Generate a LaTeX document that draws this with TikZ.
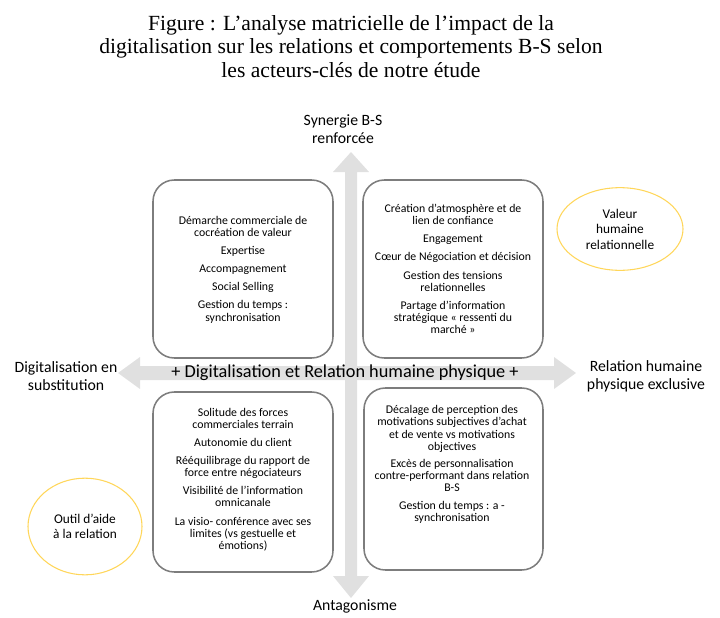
\documentclass[tikz,border=0pt]{standalone}
\usepackage{fontspec}
\setmainfont{Carlito}
\newfontfamily\titlefont{Liberation Serif}
\usetikzlibrary{shapes.geometric}
\definecolor{arrowgray}{RGB}{224,224,224}
\definecolor{boxgray}{RGB}{125,125,125}
\definecolor{ellyellow}{RGB}{255,214,90}
\begin{document}
\begin{tikzpicture}[x=0.75pt,y=-0.75pt,
  quad/.style={draw=boxgray, line width=1.15pt, rounded corners=16pt, fill=white},
  boxtext/.style={align=center, font=\fontsize{8.85}{9.1}\selectfont, inner sep=0pt},
  axislabel/.style={align=center, font=\fontsize{11.8}{13.6}\selectfont, inner sep=0pt},
  ell/.style={ellipse, draw=ellyellow, line width=0.8pt, align=center,
    font=\fontsize{10}{11.6}\selectfont, inner sep=0pt}]
\useasboundingbox (0,0) rectangle (720,617);

% title
\node[align=center, inner sep=0pt, font=\titlefont\fontsize{16.2}{17.6}\selectfont] (title) at (351,46.5)
  {Figure : L’analyse matricielle de l’impact de la\\
   digitalisation sur les relations et comportements B-S selon\\
   les acteurs-clés de notre étude};

% vertical arrow
\fill[arrowgray] (345,172) -- (333,172) -- (351,152) -- (369,172) -- (357,172)
  -- (357,576) -- (369,576) -- (351,598) -- (333,576) -- (345,576) -- cycle;
% horizontal arrow
\fill[arrowgray] (140,366) -- (140,357) -- (118,373) -- (140,389) -- (140,380)
  -- (554,380) -- (554,389) -- (576,373) -- (554,357) -- (554,366) -- cycle;

% quadrants
\draw[quad] (153,180) rectangle (333,358);
\draw[quad] (363,180) rectangle (543,358);
\draw[quad] (153,392) rectangle (333,572);
\draw[quad] (364,388) rectangle (543,570);

\node[boxtext] (tl) at (243,269.5) {Démarche commerciale de\\ cocréation de valeur\\[4.5pt]
  Expertise\\[4.5pt] Accompagnement\\[4.5pt] Social Selling\\[4.5pt]
  Gestion du temps :\\ synchronisation};
\node[boxtext] (tr) at (453,269) {Création d’atmosphère et de\\ lien de confiance\\[4.5pt]
  Engagement\\[4.5pt] Cœur de Négociation et décision\\[4.5pt]
  Gestion des tensions\\ relationnelles\\[4.5pt]
  Partage d’information\\ stratégique « ressenti du\\ marché »};
\node[boxtext] (bl) at (243,479.5) {Solitude des forces\\ commerciales terrain\\[4.5pt]
  Autonomie du client\\[4.5pt] Rééquilibrage du rapport de\\ force entre négociateurs\\[4.5pt]
  Visibilité de l’information\\ omnicanale\\[4.5pt]
  La visio- conférence avec ses\\ limites (vs gestuelle et\\ émotions)};
\node[boxtext] (br) at (452,464.5) {Décalage de perception des\\ motivations subjectives d’achat\\
  et de vente vs motivations\\ objectives\\[4pt]
  Excès de personnalisation\\ contre-performant dans relation\\ B-S\\[4pt]
  Gestion du temps : a -\\ synchronisation};

% axis labels
\node[axislabel] (top) at (343,129) {Synergie B-S\\ renforcée};
\node[axislabel] (left) at (66,376) {Digitalisation en\\ substitution};
\node[axislabel] (right) at (646,376) {Relation humaine\\ physique exclusive};
\node[axislabel] (bottom) at (355,606) {Antagonisme};
\node[inner sep=0pt, font=\fontsize{13.7}{15}\selectfont] (mid) at (345,373)
  {+ Digitalisation et Relation humaine physique +};

% ellipses
\node[ell, minimum width=94.5pt, minimum height=62pt] (valeur) at (620,229)
  {Valeur\\ humaine\\ relationnelle};
\node[ell, minimum width=85.5pt, minimum height=72.5pt] (outil) at (85,526.5)
  {Outil d’aide\\ à la relation};
\end{tikzpicture}
\end{document}
